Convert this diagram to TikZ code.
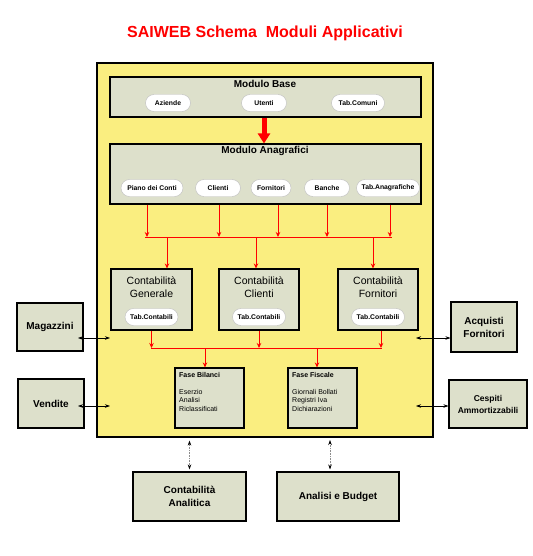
\documentclass[tikz,border=0pt]{standalone}
\usepackage{fontspec}
\setmainfont{Liberation Sans}
\usepackage{xcolor}
\definecolor{panel}{RGB}{250,238,128}
\definecolor{boxgray}{RGB}{221,224,203}
\definecolor{pillline}{RGB}{190,190,190}
\usepackage{tikz}
\usetikzlibrary{positioning,arrows.meta,calc}
\newcommand{\fs}[2]{\fontsize{#1}{#2}\selectfont}

\begin{document}
\begin{tikzpicture}[x=1pt, y=-1pt,
  modbox/.style={draw, line width=1.1pt, fill=boxgray, inner sep=0pt},
  pill/.style={draw=pillline, fill=white, rounded corners=8.5pt, minimum height=17pt,
    inner sep=0pt, font=\fs{6.8}{7}\bfseries},
  redarr/.style={red, line width=0.9pt, -{Stealth[length=5pt,width=4.5pt]}},
  redline/.style={red, line width=0.9pt},
  dblarr/.style={black, line width=0.6pt, {Stealth[length=5pt,width=3.5pt]}-{Stealth[length=5pt,width=3.5pt]}},
  dotarr/.style={black!45, densely dotted, line width=0.6pt,
    {Stealth[length=5pt,width=3.5pt,black]}-{Stealth[length=5pt,width=3.5pt,black]}}]
\useasboundingbox (0,0) rectangle (532,556);
\node[red, font=\fs{16}{18}\bfseries] (title) at (265,33) {SAIWEB Schema\ \ Moduli Applicativi};
\node[draw, line width=1.1pt, fill=panel, minimum width=336pt, minimum height=374pt] (main) at (265,250) {};

\node[modbox, minimum width=311pt, minimum height=40pt] (base) at (265.5,97) {};
\node[font=\fs{10}{12}\bfseries] (baset) at (265,84) {Modulo Base};
\node[pill, minimum width=45pt] (az) at (168,103) {Aziende};
\node[pill, minimum width=45pt] (ut) at (264,103) {Utenti};
\node[pill, minimum width=53pt] (tc) at (358,103) {Tab.Comuni};

\node[modbox, minimum width=311pt, minimum height=60pt] (anag) at (265.5,174) {};
\node[font=\fs{10}{12}\bfseries] (anagt) at (265,151) {Modulo Anagrafici};
\node[pill, minimum width=62pt] (pc) at (152,188) {Piano dei Conti};
\node[pill, minimum width=45pt] (cl) at (218,188) {Clienti};
\node[pill, minimum width=40pt] (fo) at (271,188) {Fornitori};
\node[pill, minimum width=45pt] (ba) at (327,188) {Banche};
\node[pill, minimum width=63pt] (ta) at (388,188) {Tab.Anagrafiche};
\draw[red, line width=5pt, -{Triangle[width=12pt,length=10pt]}] (base.south -| ut) -- (anag.north -| ut);

\coordinate (busA-l) at (145,237);
\coordinate (busA-r) at (392,237);
\foreach \n/\dx in {pc/-5,cl/1,fo/7,ba/0,ta/2}
  \draw[redarr] ([xshift=\dx pt]\n |- anag.south) -- ([xshift=\dx pt]\n |- busA-l);
\draw[redline] (busA-l) -- (busA-r);

\node[modbox, minimum width=81pt, minimum height=61pt] (cg) at (151.5,299.5) {};
\node[modbox, minimum width=80pt, minimum height=61pt] (cc) at (259,299.5) {};
\node[modbox, minimum width=80pt, minimum height=61pt] (cf) at (378,299.5) {};
\node[align=center, font=\fs{10.5}{13}] (cgt) at (151.5,287) {Contabilità\\Generale};
\node[align=center, font=\fs{10.5}{13}] (cct) at (259,287) {Contabilità\\Clienti};
\node[align=center, font=\fs{10.5}{13}] (cft) at (378,287) {Contabilità\\Fornitori};
\node[pill, minimum width=53pt] (cgp) at (151.5,317) {Tab.Contabili};
\node[pill, minimum width=53pt] (ccp) at (259,317) {Tab.Contabili};
\node[pill, minimum width=53pt] (cfp) at (378,317) {Tab.Contabili};
\coordinate (d1) at (167,237);
\coordinate (d2) at (256,237);
\coordinate (d3) at (373,237);
\draw[redarr] (d1) -- (d1 |- cg.north);
\draw[redarr] (d2) -- (d2 |- cc.north);
\draw[redarr] (d3) -- (d3 |- cf.north);

\coordinate (busB-l) at (151,348);
\coordinate (busB-r) at (382,348);
\draw[redarr] (cg.south) -- (cg.south |- busB-l);
\draw[redarr] (cc.south) -- (cc.south |- busB-l);
\draw[redarr] ([xshift=3pt]cf.south) -- ([xshift=3pt]cf.south |- busB-l);
\draw[redline] (busB-l) -- (busB-r);

\node[modbox, minimum width=69pt, minimum height=60pt] (fb) at (209.5,398) {};
\node[modbox, minimum width=69pt, minimum height=60pt] (ff) at (322.5,398) {};
\node[anchor=north west, align=left, font=\fs{7}{8.5}, inner sep=0pt] (fbt) at (179,372)
  {\textbf{Fase Bilanci}\\[8.5pt]Eserzio\\Analisi\\Riclassificati};
\node[anchor=north west, align=left, font=\fs{7}{8.5}, inner sep=0pt] (fft) at (292,372)
  {\textbf{Fase Fiscale}\\[8.5pt]Giornali Bollati\\Registri Iva\\Dichiarazioni};
\coordinate (e1) at (205,348);
\coordinate (e2) at (317,348);
\draw[redarr] (e1) -- (e1 |- fb.north);
\draw[redarr] (e2) -- (e2 |- ff.north);

\node[modbox, minimum width=66pt, minimum height=48pt, font=\fs{10}{13}\bfseries] (mag) at (50,327) {Magazzini};
\node[modbox, minimum width=66pt, minimum height=49pt, font=\fs{10}{13}\bfseries] (ven) at (51,403.5) {Vendite};
\node[modbox, minimum width=66pt, minimum height=50pt, align=center, font=\fs{10}{13}\bfseries] (acq) at (484,327) {Acquisti\\Fornitori};
\node[modbox, minimum width=78pt, minimum height=48pt, align=center, font=\fs{8.5}{12}\bfseries] (ces) at (488,404) {Cespiti\\Ammortizzabili};
\coordinate (m1) at (78,338);
\coordinate (m2) at (110,338);
\coordinate (v1) at (78,406);
\coordinate (v2) at (110,406);
\coordinate (a1) at (416,338);
\coordinate (c1) at (416,406);
\draw[dblarr] (m1) -- (m2);
\draw[dblarr] (v1) -- (v2);
\draw[dblarr] (a1) -- (a1 -| acq.west);
\draw[dblarr] (c1) -- (c1 -| ces.west);

\node[modbox, minimum width=113pt, minimum height=49pt, align=center, font=\fs{10}{13}\bfseries] (ana) at (189.5,496.5) {Contabilità\\Analitica};
\node[modbox, minimum width=122pt, minimum height=49pt, font=\fs{10}{13}\bfseries] (bud) at (338,496.5) {Analisi e Budget};
\coordinate (b1) at (330,440);
\draw[dotarr] ([yshift=-3pt]ana.north |- main.south) -- ([yshift=2pt]ana.north);
\draw[dotarr] (b1) -- ([yshift=2pt]b1 |- bud.north);
\end{tikzpicture}
\end{document}
